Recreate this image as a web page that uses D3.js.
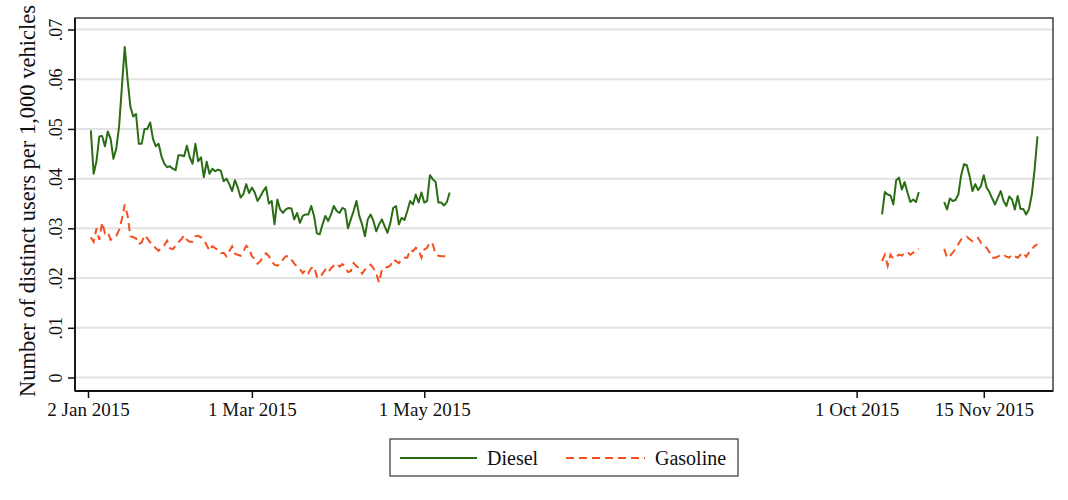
<!DOCTYPE html>
<html><head><meta charset="utf-8">
<script src="https://cdn.jsdelivr.net/npm/d3@7"></script>
<style>
body{margin:0;background:#fff;}
svg text{font-family:"Liberation Serif","DejaVu Serif",serif;fill:#111;}
</style></head>
<body><svg id="c" width="1068" height="500"></svg>
<script>
// ---- data ----
const seriesNames = ["Diesel", "Gasoline"];
const segmentStarts = ["2015-01-03", "2015-10-10", "2015-11-01"];
const xTickDates = ["2015-01-02", "2015-03-01", "2015-05-01", "2015-10-01", "2015-11-15"];
const xTickLabels = ["2 Jan 2015", "1 Mar 2015", "1 May 2015", "1 Oct 2015", "15 Nov 2015"];
const yTicks = [0, .01, .02, .03, .04, .05, .06, .07];
const yTickLabels = ["0", ".01", ".02", ".03", ".04", ".05", ".06", ".07"];

const dieselSeg1 = [.0497,.041,.0435,.0485,.0486,.0465,.0495,.048,.044,.046,.0505,.0585,.0665,.060,.0545,.0525,.053,.047,.047,.050,
.050,.0513,.048,.0465,.047,.0445,.043,.0423,.0425,.042,.0417,.0447,.0447,.0445,.0466,.0443,.043,.047,.0435,.0443,
.0403,.0434,.041,.042,.0415,.0418,.0416,.0395,.040,.0389,.0375,.0397,.0382,.0362,.0369,.0389,.0371,.0382,.0372,.0355,
.0364,.0375,.0383,.035,.0355,.0308,.0358,.0338,.0331,.0338,.0341,.034,.0318,.0331,.0311,.0325,.0328,.0328,.0345,.0325,
.029,.0288,.0308,.0325,.0315,.0328,.0345,.0335,.0331,.0341,.0338,.0300,.0318,.0335,.0355,.0325,.0308,.0284,.0318,.0328,
.0315,.0294,.0308,.0318,.0304,.0291,.0311,.0341,.0345,.0308,.0321,.0317,.0335,.0355,.0348,.0368,.0352,.0372,.0352,.0355,
.0407,.0399,.0394,.0352,.0352,.0346,.0353,.0372];
const gasSeg1 = [.0282,.0273,.030,.0277,.0312,.029,.0293,.0277,.028,.0285,.0297,.0319,.0348,.0326,.0284,.0282,.028,.0268,.0272,.0286,
.028,.0272,.0266,.026,.0255,.0262,.0266,.0275,.026,.0258,.0265,.0272,.0278,.0286,.0277,.0273,.0273,.0284,.0285,.0282,
.0277,.0266,.0255,.0264,.026,.0257,.025,.0251,.0244,.0254,.0264,.0249,.0247,.0245,.0254,.0265,.026,.0244,.0238,.0229,
.0234,.0244,.025,.0244,.0234,.0227,.0225,.0229,.0237,.0244,.0244,.0237,.0229,.0223,.0218,.021,.0217,.021,.022,.0223,
.0203,.020,.0209,.0217,.0211,.022,.0225,.0229,.0223,.0228,.0223,.0212,.0214,.023,.0224,.022,.0209,.0217,.0222,.0227,
.022,.0209,.0191,.0217,.0222,.0222,.0225,.0237,.0234,.023,.0237,.0241,.0241,.0257,.0254,.0261,.0257,.0241,.0257,.0261,
.0272,.0268,.0249,.0245,.0244,.0244,.0244,.0244];
const dieselSeg2 = [.0328,.0373,.0368,.0366,.0348,.0397,.0402,.0378,.0393,.0372,.0353,.0358,.0353,.0373];
const gasSeg2 = [.0234,.0247,.0225,.0247,.0239,.0243,.0247,.0245,.0251,.0252,.0247,.0251,.0254,.0259];
const dieselSeg3 = [.0353,.0338,.036,.0355,.0357,.0368,.0407,.0429,.0427,.0405,.0375,.0389,.0377,.0385,.0407,.0382,.0373,.036,.0348,.0362,
.0375,.0355,.0345,.0364,.0358,.0338,.0365,.0339,.0339,.0328,.0339,.0368,.0419,.0485];
const gasSeg3 = [.0259,.0241,.0244,.0251,.0259,.0268,.0278,.0279,.0283,.0278,.0274,.0278,.0281,.0271,.0264,.0261,.0252,.0241,.0241,.0243,
.0247,.0247,.0243,.0241,.0247,.0244,.0241,.0247,.0251,.0243,.0251,.0257,.0265,.0268];

// ---- build ----
const parse = d3.utcParse("%Y-%m-%d");
const DAY = 86400000;
function seg(start, vals){ const s = parse(start); return vals.map((v,i)=>({date:new Date(s.getTime()+i*DAY), v})); }
const diesel = [seg(segmentStarts[0],dieselSeg1), seg(segmentStarts[1],dieselSeg2), seg(segmentStarts[2],dieselSeg3)];
const gas = [seg(segmentStarts[0],gasSeg1), seg(segmentStarts[1],gasSeg2), seg(segmentStarts[2],gasSeg3)];

const L = 75, R = 1053, T = 18, B = 391;
const ref = parse("2015-01-02").getTime();
const x = d3.scaleUtc().domain([new Date(ref - 4.6*DAY), new Date(ref + 341.5*DAY)]).range([L, R]);
const y = d3.scaleLinear().domain([0, .07]).range([377.5, 29.5]);

const svg = d3.select("#c");
const colD = "#2b6d14", colG = "#f4511e";

// gridlines
svg.append("g").selectAll("line").data(yTicks).join("line")
  .attr("x1", L).attr("x2", R).attr("y1", d=>y(d)).attr("y2", d=>y(d))
  .attr("stroke", "#e3e3e3").attr("stroke-width", 2);

// lines
const line = d3.line().x(d=>x(d.date)).y(d=>y(d.v));
diesel.forEach(s => svg.append("path").datum(s).attr("d", line)
  .attr("fill","none").attr("stroke", colD).attr("stroke-width", 2).attr("stroke-linejoin","round"));
gas.forEach(s => svg.append("path").datum(s).attr("d", line)
  .attr("fill","none").attr("stroke", colG).attr("stroke-width", 2).attr("stroke-dasharray","8,5"));

// frame
svg.append("rect").attr("x", L).attr("y", T).attr("width", R-L).attr("height", B-T)
  .attr("fill","none").attr("stroke","#222").attr("stroke-width",1.3);
svg.append("line").attr("x1",L).attr("x2",L).attr("y1",T).attr("y2",B).attr("stroke","#111").attr("stroke-width",1.8);
svg.append("line").attr("x1",L).attr("x2",R).attr("y1",B).attr("y2",B).attr("stroke","#111").attr("stroke-width",1.8);

// y axis
const yAx = svg.append("g").attr("transform", `translate(${L},0)`)
  .call(d3.axisLeft(y).tickValues(yTicks).tickSize(7).tickFormat((d,i)=>yTickLabels[i]));
yAx.select(".domain").remove();
yAx.selectAll(".tick line").attr("stroke","#111").attr("stroke-width",1.5);
yAx.selectAll(".tick text").attr("font-size", 18).attr("text-anchor","middle")
  .attr("x", 0).attr("dy", 0).attr("transform", "translate(-19,0) rotate(-90)").attr("dy","0.35em")
  .style("font-family",'"Liberation Serif",serif').attr("fill","#111");

// x axis
const xAx = svg.append("g").attr("transform", `translate(0,${B})`)
  .call(d3.axisBottom(x).tickValues(xTickDates.map(parse)).tickSize(7).tickFormat((d,i)=>xTickLabels[i]));
xAx.select(".domain").remove();
xAx.selectAll(".tick line").attr("stroke","#111").attr("stroke-width",1.5);
xAx.selectAll(".tick text").attr("font-size", 19).attr("y", 12).attr("dy","0.71em")
  .style("font-family",'"Liberation Serif",serif').attr("fill","#111");

// y title
svg.append("text").attr("transform","translate(27,201) rotate(-90)")
  .attr("text-anchor","middle").attr("dy","0.35em").attr("font-size",22.5)
  .text("Number of distinct users per 1,000 vehicles");

// legend
const lg = svg.append("g");
lg.append("rect").attr("x",390).attr("y",439).attr("width",348).attr("height",37)
  .attr("fill","#fff").attr("stroke","#333").attr("stroke-width",1.2);
lg.append("line").attr("x1",400).attr("x2",477).attr("y1",458).attr("y2",458).attr("stroke",colD).attr("stroke-width",2);
lg.append("text").attr("x",487).attr("y",458).attr("dy","0.35em").attr("font-size",20).text(seriesNames[0]);
lg.append("line").attr("x1",566).attr("x2",645).attr("y1",458).attr("y2",458).attr("stroke",colG).attr("stroke-width",2).attr("stroke-dasharray","8,5");
lg.append("text").attr("x",655).attr("y",458).attr("dy","0.35em").attr("font-size",20).text(seriesNames[1]);
</script></body></html>
